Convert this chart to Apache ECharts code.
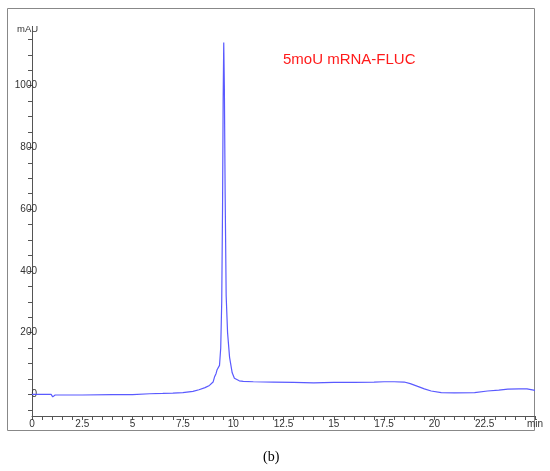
<!DOCTYPE html>
<html>
<head>
<meta charset="utf-8">
<script src="https://cdn.jsdelivr.net/npm/echarts@6/dist/echarts.min.js"></script>
<style>html,body{margin:0;padding:0;background:#fff;}#c{width:550px;height:471px;}</style>
</head>
<body>
<div id="c"></div>
<script>
// Retention time (min)
const times = [0,0.5,0.8,0.87,0.95,1.03,1.15,1.5,2.5,4,5,5.85,6.5,7,7.5,8,8.3,8.6,8.82,9.0,9.07,9.15,9.2,9.25,9.32,9.38,9.43,9.47,9.5,9.53,9.56,9.6,9.65,9.72,9.82,9.95,10.06,10.3,10.5,11,12,13,14,14.5,15,16,17,17.5,18,18.5,18.8,19.17,19.5,19.84,20.34,21,22,22.64,23.2,23.65,24.2,24.6,25];
// Absorbance (mAU)
const absorbance = [0,0,0,6,0,-8,-2,-2,-2,-1,-1,2,3,4,6,10,15,22,29,40,56,68,80,84,94,150,300,600,950,1140,1000,650,320,200,120,70,52,44,42,41,40,39,37,38,39,39,40,41,41,40,35,26,18,11,6,5,6,11,14,17,18,18,13];
const xLabelValues = [0,2.5,5,7.5,10,12.5,15,17.5,20,22.5,25];
const xTickValues = [0,0.5,1,1.5,2,2.5,3,3.5,4,4.5,5,5.5,6,6.5,7,7.5,8,8.5,9,9.5,10,10.5,11,11.5,12,12.5,13,13.5,14,14.5,15,15.5,16,16.5,17,17.5,18,18.5,19,19.5,20,20.5,21,21.5,22,22.5,23,23.5,24,24.5,25];
const yLabelValues = [0,200,400,600,800,1000];
const yTickValues = [-50,0,50,100,150,200,250,300,350,400,450,500,550,600,650,700,750,800,850,900,950,1000,1050,1100,1150];
const chartTitle = '5moU mRNA-FLUC';
const yUnit = 'mAU';
const xUnit = 'min';
const panelLabel = '(b)';

const chart = echarts.init(document.getElementById('c'), null, {renderer: 'canvas'});
chart.setOption({
  animation: false,
  grid: {left: 32, right: 15, top: 27, bottom: 55},
  xAxis: {
    type: 'value', min: 0, max: 25,
    splitLine: {show: false},
    axisLine: {onZero: false, lineStyle: {color: '#555', width: 1}},
    axisTick: {show: true, length: 4, customValues: xTickValues, lineStyle: {color: '#555'}},
    axisLabel: {
      customValues: xLabelValues, margin: 3, fontSize: 10, color: '#333',
      fontFamily: 'Liberation Sans, Arial, sans-serif',
      formatter: v => (v === 25 ? xUnit : String(v))
    }
  },
  yAxis: {
    type: 'value', min: -70, max: 1190,
    splitLine: {show: false},
    axisLine: {show: true, lineStyle: {color: '#555', width: 1}},
    axisTick: {show: true, length: 4, customValues: yTickValues, lineStyle: {color: '#555'}},
    axisLabel: {
      customValues: yLabelValues, margin: -5, fontSize: 10, color: '#333',
      fontFamily: 'Liberation Sans, Arial, sans-serif',
      formatter: v => String(v)
    }
  },
  graphic: [
    {type: 'rect', silent: true, z: -1, shape: {x: 7.5, y: 8.5, width: 527, height: 422}, style: {fill: 'none', stroke: '#888', lineWidth: 1}},
    {type: 'text', left: 283, top: 52, style: {text: chartTitle, fontSize: 15, fill: '#ff1a1a', fontFamily: 'Liberation Sans, Arial, sans-serif'}},
    {type: 'text', left: 17, top: 24, style: {text: yUnit, fontSize: 9.5, fill: '#333', fontFamily: 'Liberation Sans, Arial, sans-serif'}},
    {type: 'text', left: 263, top: 450, style: {text: panelLabel, fontSize: 14, fill: '#000', fontFamily: 'Liberation Serif, Times New Roman, serif'}}
  ],
  series: [{
    type: 'line',
    data: times.map((t, i) => [t, absorbance[i]]),
    showSymbol: false,
    lineStyle: {color: '#5a5aff', width: 1.2},
    smooth: false
  }]
});
</script>
</body>
</html>
